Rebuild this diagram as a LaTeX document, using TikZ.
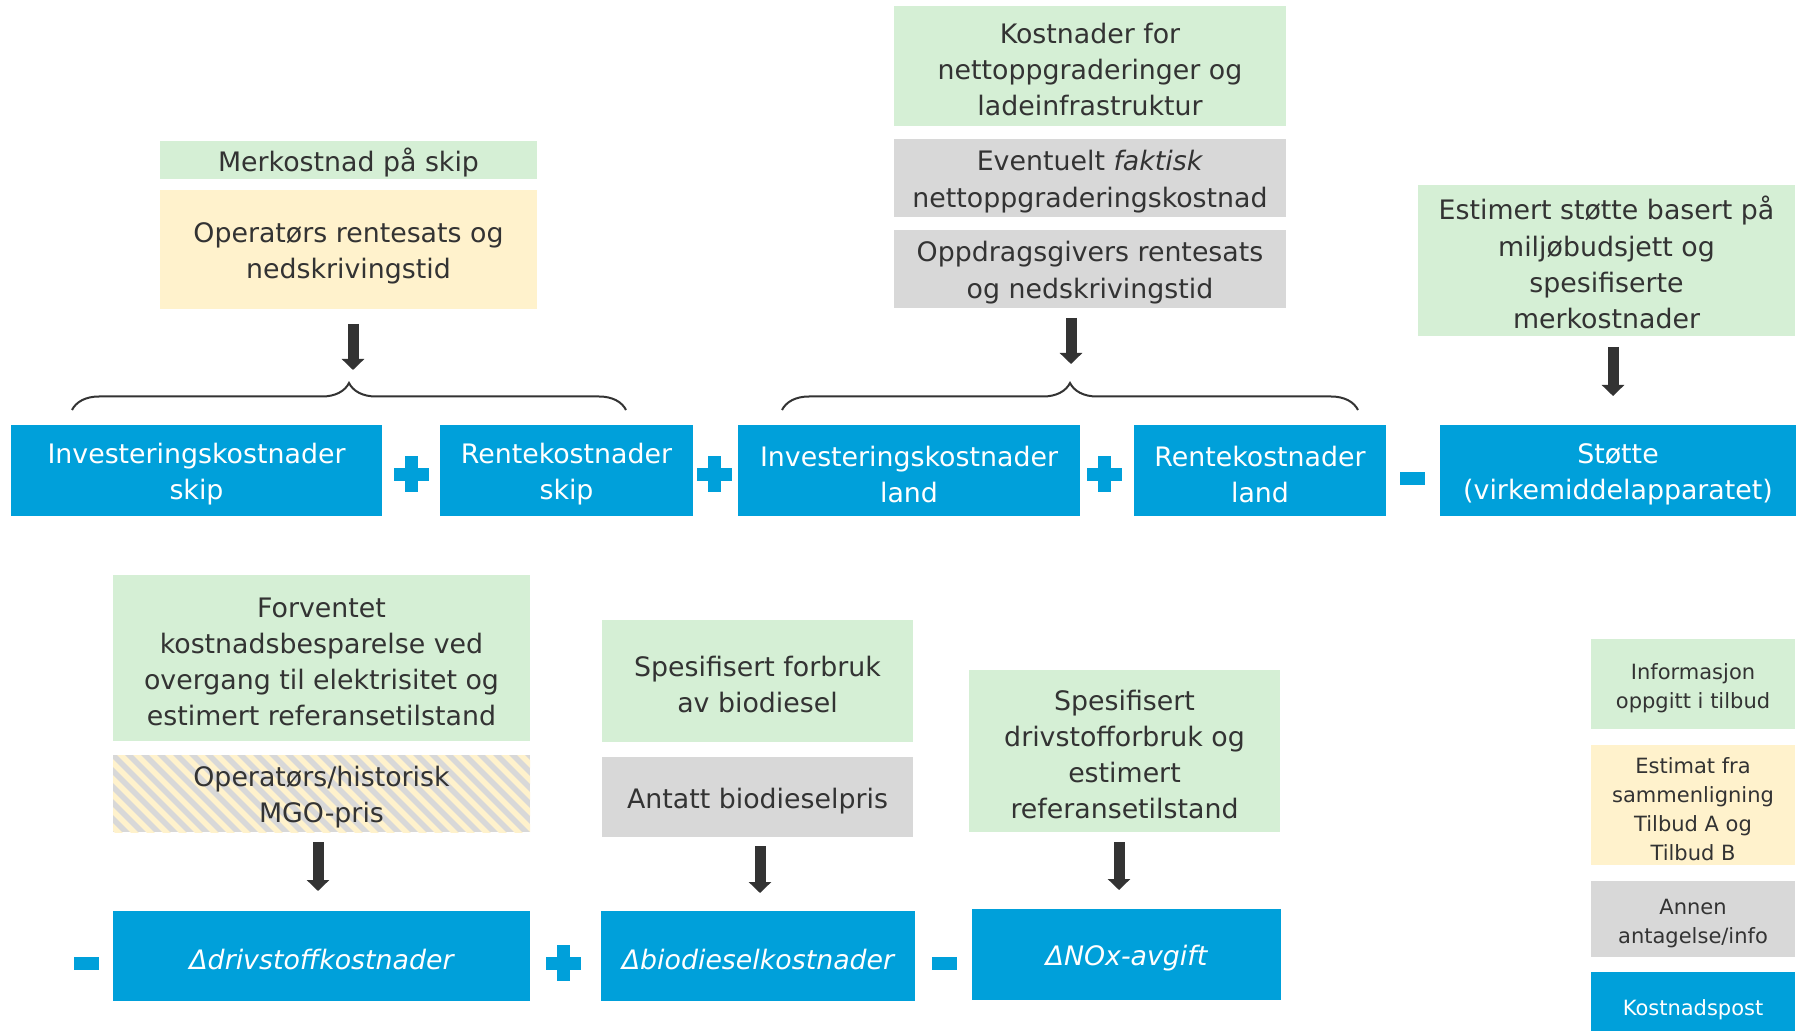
\documentclass[tikz,border=0pt]{standalone}
\usepackage{fontspec}
\setmainfont{DejaVu Sans}
\usetikzlibrary{arrows.meta,decorations.pathreplacing}
\definecolor{cblue}{HTML}{00A0DA}
\definecolor{cgreen}{HTML}{D5EFD5}
\definecolor{cyellow}{HTML}{FFF2CC}
\definecolor{cgrey}{HTML}{D8D8D8}
\definecolor{ctxt}{HTML}{333333}
\definecolor{carrow}{HTML}{333333}
\newcommand{\mystrut}{\rule{0pt}{1.03em}}
\newcommand{\mylstrut}{\rule{0pt}{1.12em}}
\tikzset{
  box/.style={inner sep=0pt, align=center, text=ctxt, font=\fontsize{13.4}{18.1}\selectfont},
  gbox/.style={box, fill=cgreen},
  ybox/.style={box, fill=cyellow},
  greybox/.style={box, fill=cgrey},
  bbox/.style={box, fill=cblue, text=white},
  lbox/.style={box, font=\fontsize{10.5}{14.5}\selectfont, minimum width=102pt},
  bigarrow/.style={draw=carrow, line width=5.5pt, -{Triangle[width=11pt,length=5.5pt]}},
  bracestyle/.style={draw=ctxt, line width=1pt, decorate, decoration={brace, amplitude=13.5pt}},
  plussign/.pic={\fill[cblue] (-17.5,-6.5) rectangle (17.5,6.5); \fill[cblue] (-6.5,-18) rectangle (6.5,18);},
  minussign/.pic={\fill[cblue] (-12.5,-6.5) rectangle (12.5,6.5);}
}
\begin{document}
\begin{tikzpicture}[x=0.5pt,y=-0.5pt]
\clip (0,0) rectangle (1802,1031);
\fill[white] (0,0) rectangle (1802,1031);

% ---- top left
\node[gbox, minimum width=188.5pt, minimum height=19pt] (merk) at (348.5,160) {\mystrut Merkostnad på skip};
\node[ybox, minimum width=188.5pt, minimum height=59.5pt] (oper) at (348.5,249.5) {\mystrut Operatørs rentesats og\\nedskrivingstid};

% ---- top middle
\node[gbox, minimum width=196pt, minimum height=60pt] (kost) at (1090,66) {\mystrut Kostnader for\\nettoppgraderinger og\\ladeinfrastruktur};
\node[greybox, minimum width=196pt, minimum height=39pt] (event) at (1090,178) {\mystrut Eventuelt \textit{faktisk}\\nettoppgraderingskostnad};
\node[greybox, minimum width=196pt, minimum height=39pt] (oppd) at (1090,269) {\mystrut Oppdragsgivers rentesats\\og nedskrivingstid};

% ---- top right
\node[gbox, minimum width=188.5pt, minimum height=75.5pt] (estim) at (1606.5,260.5) {\mystrut Estimert støtte basert på\\miljøbudsjett og\\spesifiserte\\merkostnader};

% ---- cost row
\node[bbox, minimum width=185.5pt, minimum height=45.5pt] (b1) at (196.5,470.5) {\mystrut Investeringskostnader\\skip};
\node[bbox, minimum width=126.5pt, minimum height=45.5pt] (b2) at (566.5,470.5) {\mystrut Rentekostnader\\skip};
\node[bbox, minimum width=171pt, minimum height=45.5pt] (b3) at (909,470.5) {\mystrut Investeringskostnader\\land};
\node[bbox, minimum width=126pt, minimum height=45.5pt] (b4) at (1260,470.5) {\mystrut Rentekostnader\\land};
\node[bbox, minimum width=178pt, minimum height=45.5pt] (b5) at (1618,470.5) {\mystrut Støtte\\(virkemiddelapparatet)};

\pic at (411.5,474) {plussign};
\pic at (714,474) {plussign};
\pic at (1104,474) {plussign};
\pic at (1412.5,478.5) {minussign};

% braces
\coordinate (br1l) at (72,410);
\coordinate (br1r) at (626,410);
\coordinate (br2l) at (782,410);
\coordinate (br2r) at (1358,410);
\draw[bracestyle] (br1l) -- (br1r);
\draw[bracestyle] (br2l) -- (br2r);

% arrows top
\coordinate (a1s) at (353,324); \coordinate (a1e) at (353,370);
\coordinate (a2s) at (1071,318); \coordinate (a2e) at (1071,364);
\coordinate (a3s) at (1613,347); \coordinate (a3e) at (1613,396);
\draw[bigarrow] (a1s) -- (a1e);
\draw[bigarrow] (a2s) -- (a2e);
\draw[bigarrow] (a3s) -- (a3e);

% ---- bottom left
\node[gbox, minimum width=208.5pt, minimum height=83pt] (forv) at (321.5,658) {\mystrut Forventet\\kostnadsbesparelse ved\\overgang til elektrisitet og\\estimert referansetilstand};
\fill[cgrey] (113,755) rectangle (530,832);
\begin{scope}
\clip (113,755) rectangle (530,832);
\foreach \c in {-730,-714,...,-200} {
  \draw[cyellow, line width=2.7pt] (\c+700,700) -- (\c+900,900);
}
\end{scope}
\node[box, minimum width=208.5pt, minimum height=38.5pt] (hatch) at (321.5,793.5) {\mystrut Operatørs/historisk\\MGO-pris};
\node[bbox, minimum width=208.5pt, minimum height=45pt] (bd1) at (321.5,956) {\mystrut\itshape Δdrivstoffkostnader};

% ---- bottom middle
\node[gbox, minimum width=155.5pt, minimum height=61pt] (spes1) at (757.5,681) {\mystrut Spesifisert forbruk\\av biodiesel};
\node[greybox, minimum width=155.5pt, minimum height=40pt] (antatt) at (757.5,797) {\mystrut Antatt biodieselpris};
\node[bbox, minimum width=157pt, minimum height=45pt] (bd2) at (758,956) {\mystrut\itshape Δbiodieselkostnader};

% ---- bottom right
\node[gbox, minimum width=155.5pt, minimum height=81pt] (spes2) at (1124.5,751) {\mystrut Spesifisert\\drivstofforbruk og\\estimert\\referansetilstand};
\node[bbox, minimum width=154.5pt, minimum height=45.5pt] (bd3) at (1126.5,954.5) {\mystrut\itshape ΔNOx-avgift};

\pic at (86,963) {minussign};
\pic at (563,963) {plussign};
\pic at (944,963) {minussign};

% arrows bottom
\coordinate (a4s) at (318,842); \coordinate (a4e) at (318,891);
\coordinate (a5s) at (760,846); \coordinate (a5e) at (760,893);
\coordinate (a6s) at (1119,842); \coordinate (a6e) at (1119,890);
\draw[bigarrow] (a4s) -- (a4e);
\draw[bigarrow] (a5s) -- (a5e);
\draw[bigarrow] (a6s) -- (a6e);

% ---- legend
\node[lbox, fill=cgreen, minimum height=45pt] (lg1) at (1693,684) {\mylstrut Informasjon\\oppgitt i tilbud};
\node[lbox, fill=cyellow, minimum height=60pt] (lg2) at (1693,805) {\mylstrut Estimat fra\\sammenligning\\Tilbud A og\\Tilbud B};
\node[lbox, fill=cgrey, minimum height=38pt] (lg3) at (1693,919) {\mylstrut Annen\\antagelse/info};
\node[lbox, fill=cblue, text=white, minimum height=34pt] (lg4) at (1693,1006) {\mylstrut Kostnadspost};
\end{tikzpicture}
\end{document}
